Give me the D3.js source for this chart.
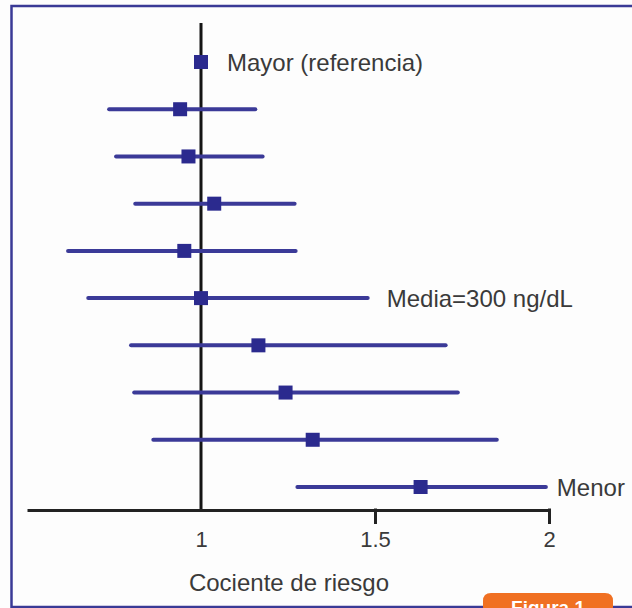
<!DOCTYPE html>
<html>
<head>
<meta charset="utf-8">
<script src="https://cdn.jsdelivr.net/npm/d3@7"></script>
<style>
  html, body { margin: 0; padding: 0; background: #fff; }
  svg { display: block; font-family: "Liberation Sans", Arial, sans-serif; }
</style>
</head>
<body>
<div id="wrapper"></div>
<script>
// filas de arriba (mayor) a abajo (menor)
const grupos = ['1', '2', '3', '4', '5', '6', '7', '8', '9', '10'];
const cociente = [1.0, 0.94, 0.964, 1.038, 0.952, 1.0, 1.165, 1.243, 1.321, 1.631];
const icInf = [null, 0.736, 0.756, 0.811, 0.618, 0.676, 0.799, 0.808, 0.863, 1.277];
const icSup = [null, 1.156, 1.177, 1.269, 1.272, 1.479, 1.703, 1.738, 1.850, 1.991];
const etiquetas = ['Mayor (referencia)', '', '', '', '', 'Media=300 ng/dL', '', '', '', 'Menor'];
const ticks = [1, 1.5, 2];
const tituloX = 'Cociente de riesgo';

const W = 632, H = 608;
const azul = '#3b3a98', cuadro = '#2b2a8e';

let svg = d3.select('#wrapper').append('svg')
            .attr('width', W)
            .attr('height', H);

svg.append('rect').attr('width', W).attr('height', H).attr('fill', '#fdfdfd');

// marco azul (sin borde derecho visible)
svg.append('rect')
   .attr('x', 11.5).attr('y', 6)
   .attr('width', 660).attr('height', 601)
   .attr('fill', 'none')
   .attr('stroke', '#3a3a96')
   .attr('stroke-width', 2.5);

let x = d3.scaleLinear().domain([0.5, 2]).range([27, 549]);
let y = d3.scalePoint().domain(grupos).range([62, 487]);

// linea vertical de referencia en 1
svg.append('line')
   .attr('x1', x(1)).attr('x2', x(1))
   .attr('y1', 23).attr('y2', 510)
   .attr('stroke', '#151515')
   .attr('stroke-width', 3);

// eje x
let xAxis = d3.axisBottom(x)
              .tickValues(ticks)
              .tickSize(14)
              .tickSizeOuter(0)
              .tickFormat(d3.format('~g'));

let gx = svg.append('g')
            .attr('transform', 'translate(0,510)')
            .call(xAxis);
gx.select('.domain').attr('stroke', '#222').attr('stroke-width', 3);
gx.selectAll('.tick line')
  .attr('stroke', '#222').attr('stroke-width', 3)
  .attr('y1', -1.5)
  .style('display', d => d === 1 ? 'none' : null);
gx.selectAll('.tick text')
  .attr('y', 21)
  .attr('fill', '#3a3a3a')
  .style('font-size', '22px')
  .style('font-family', '"Liberation Sans", Arial, sans-serif');

svg.append('text')
   .attr('x', 289).attr('y', 591)
   .attr('text-anchor', 'middle')
   .attr('fill', '#3a3a3a')
   .style('font-size', '24px')
   .text(tituloX);

// intervalos
svg.append('g').selectAll('line')
   .data(grupos.filter((g, i) => icInf[i] !== null))
   .enter().append('line')
   .attr('x1', g => x(icInf[grupos.indexOf(g)]))
   .attr('x2', g => x(icSup[grupos.indexOf(g)]))
   .attr('y1', g => y(g)).attr('y2', g => y(g))
   .attr('stroke', azul)
   .attr('stroke-width', 4)
   .attr('stroke-linecap', 'round');

// puntos
const s = 14;
svg.append('g').selectAll('rect')
   .data(grupos)
   .enter().append('rect')
   .attr('x', (g, i) => x(cociente[i]) - s / 2)
   .attr('y', g => y(g) - s / 2)
   .attr('width', s).attr('height', s)
   .attr('fill', cuadro);

// etiquetas
const separacion = {0: 26, 5: 19, 9: 11};
svg.append('g').selectAll('text')
   .data(grupos.filter((g, i) => etiquetas[i]))
   .enter().append('text')
   .attr('x', g => {
      let i = grupos.indexOf(g);
      let fin = icSup[i] !== null ? icSup[i] : cociente[i];
      return x(fin) + separacion[i];
   })
   .attr('y', g => y(g))
   .attr('dy', '0.36em')
   .attr('fill', '#3a3a3a')
   .style('font-size', '24px')
   .text(g => etiquetas[grupos.indexOf(g)]);

// pestaña "Figura 1"
svg.append('path')
   .attr('d', 'M483,608 L483,601 Q483,593 491,593 L605,593 Q613,593 613,601 L613,608 Z')
   .attr('fill', '#f07022');
svg.append('text')
   .attr('x', 548).attr('y', 614)
   .attr('text-anchor', 'middle')
   .attr('fill', '#fff')
   .style('font-size', '19px')
   .style('font-weight', 'bold')
   .text('Figura 1');
</script>
</body>
</html>
